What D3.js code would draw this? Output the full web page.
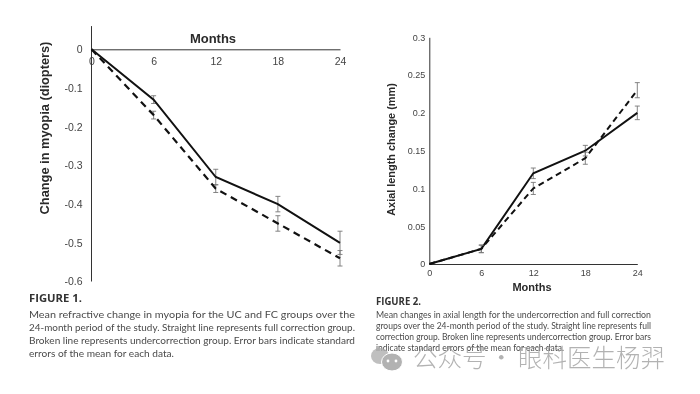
<!DOCTYPE html>
<html>
<head>
<meta charset="utf-8">
<script src="https://cdn.jsdelivr.net/npm/d3@7"></script>
<style>
  html, body { margin: 0; padding: 0; background: #fff; }
  svg { display: block; filter: blur(0.4px); }
  .tick text { font-family: "Liberation Sans", sans-serif; fill: #444; }
  .title { font-family: "Liberation Sans", sans-serif; font-weight: bold; fill: #2a2a2a; }
  .cap { font-family: Lato, "Open Sans", sans-serif; fill: #4a4a4a; }
  .cap-head { font-family: "Open Sans", sans-serif; font-weight: bold; fill: #333; }
</style>
</head>
<body>
<div id="chart"></div>
<script>
const months = [0, 6, 12, 18, 24];

const myopiaFull = [0, -0.13, -0.33, -0.40, -0.50];
const myopiaUnder = [0, -0.17, -0.36, -0.45, -0.54];
const myopiaFullErr = [0, 0.01, 0.02, 0.02, 0.03];
const myopiaUnderErr = [0, 0.01, 0.01, 0.02, 0.02];
const myopiaTicks = [0, -0.1, -0.2, -0.3, -0.4, -0.5, -0.6];

const axialFull = [0, 0.02, 0.12, 0.15, 0.20];
const axialUnder = [0, 0.02, 0.10, 0.14, 0.23];
const axialFullErr = [0, 0.005, 0.007, 0.007, 0.009];
const axialUnderErr = [0, 0.005, 0.008, 0.008, 0.01];
const axialTicks = [0, 0.05, 0.1, 0.15, 0.2, 0.25, 0.3];

const caption1 = [
    'Mean refractive change in myopia for the UC and FC groups over the',
    '24-month period of the study. Straight line represents full correction group.',
    'Broken line represents undercorrection group. Error bars indicate standard',
    'errors of the mean for each data.'
];
const caption2 = [
    'Mean changes in axial length for the undercorrection and full correction',
    'groups over the 24-month period of the study. Straight line represents full',
    'correction group. Broken line represents undercorrection group. Error bars',
    'indicate standard errors of the mean for each data.'
];

const svg = d3.select('#chart').append('svg')
    .attr('width', 700)
    .attr('height', 394);

const drawSeries = (g, x, y, values, errs, dash, width) => {
    const line = d3.line()
        .x((d, i) => x(months[i]))
        .y(d => y(d));

    // error bars go under the lines
    months.forEach((m, i) => {
        if (errs[i] === 0) return;
        const top = y(values[i] + errs[i]);
        const bot = y(values[i] - errs[i]);
        const cx = x(m);
        g.append('path')
            .attr('d', `M${cx - 2.5},${top}H${cx + 2.5}M${cx},${top}V${bot}M${cx - 2.5},${bot}H${cx + 2.5}`)
            .attr('fill', 'none')
            .attr('stroke', '#777')
            .attr('stroke-width', 0.9);
    });

    g.append('path')
        .datum(values)
        .attr('d', line)
        .attr('fill', 'none')
        .attr('stroke', '#111')
        .attr('stroke-width', width)
        .attr('stroke-dasharray', dash);
};

// figure 1
const x1 = d3.scaleLinear().domain([0, 24]).range([91.5, 340]);
const y1 = d3.scaleLinear().domain([0, -0.6]).range([49.3, 281.5]);
const g1 = svg.append('g');

const axisTop1 = g1.append('g')
    .attr('transform', `translate(0,${y1(0)})`)
    .call(d3.axisBottom(x1).tickValues(months).tickSize(0).tickPadding(8).tickFormat(d3.format('d')));
axisTop1.selectAll('text').style('font-size', '10.5px');
axisTop1.select('.domain').attr('stroke', '#333').attr('stroke-width', 1);

const axisLeft1 = g1.append('g')
    .attr('transform', `translate(${x1(0)},0)`)
    .call(d3.axisLeft(y1).tickValues(myopiaTicks).tickSize(0).tickPadding(9).tickFormat(d => d === 0 ? '0' : d3.format('.1f')(d).replace('\u2212', '-')));
axisLeft1.selectAll('text').style('font-size', '10.5px');
axisLeft1.select('.domain').remove();
g1.append('line')
    .attr('x1', x1(0)).attr('x2', x1(0))
    .attr('y1', y1(0.06)).attr('y2', y1(-0.6))
    .attr('stroke', '#333');

drawSeries(g1, x1, y1, myopiaFull, myopiaFullErr, null, 2);
drawSeries(g1, x1, y1, myopiaUnder, myopiaUnderErr, '7,5', 2.2);

g1.append('text').attr('class', 'title')
    .attr('x', 213).attr('y', 43)
    .attr('text-anchor', 'middle')
    .style('font-size', '13px')
    .text('Months');
g1.append('text').attr('class', 'title')
    .attr('transform', 'translate(49,128) rotate(-90)')
    .attr('text-anchor', 'middle')
    .style('font-size', '12.8px')
    .text('Change in myopia (diopters)');

// figure 2
const x2 = d3.scaleLinear().domain([0, 24]).range([429.3, 637.3]);
const y2 = d3.scaleLinear().domain([0, 0.3]).range([264, 37.3]);
const g2 = svg.append('g');

const axisBottom2 = g2.append('g')
    .attr('transform', `translate(0,${y2(0)})`)
    .call(d3.axisBottom(x2).tickValues(months).tickSize(0).tickPadding(6).tickFormat(d3.format('d')));
axisBottom2.selectAll('text').style('font-size', '9px');
axisBottom2.select('.domain').attr('stroke', '#333');

const axisLeft2 = g2.append('g')
    .attr('transform', `translate(${x2(0)},0)`)
    .call(d3.axisLeft(y2).tickValues(axialTicks).tickSize(0).tickPadding(4).tickFormat(d => String(d)));
axisLeft2.selectAll('text').style('font-size', '9px');
axisLeft2.select('.domain').attr('stroke', '#333');

drawSeries(g2, x2, y2, axialFull, axialFullErr, null, 1.9);
drawSeries(g2, x2, y2, axialUnder, axialUnderErr, '6,4', 2);

g2.append('text').attr('class', 'title')
    .attr('x', 532).attr('y', 291)
    .attr('text-anchor', 'middle')
    .style('font-size', '11px')
    .text('Months');
g2.append('text').attr('class', 'title')
    .attr('transform', 'translate(395,149.5) rotate(-90)')
    .attr('text-anchor', 'middle')
    .style('font-size', '10.9px')
    .text('Axial length change (mm)');

// captions, fitted to the printed line widths
const drawCaption = (head, lines, x, headY, ys, widths, size, headSize, headW) => {
    svg.append('text').attr('class', 'cap-head')
        .attr('x', x).attr('y', headY)
        .attr('textLength', headW)
        .attr('lengthAdjust', 'spacingAndGlyphs')
        .style('font-size', headSize + 'px')
        .text(head);
    lines.forEach((t, i) => {
        svg.append('text').attr('class', 'cap')
            .attr('x', x).attr('y', ys[i])
            .attr('textLength', widths[i])
            .attr('lengthAdjust', 'spacingAndGlyphs')
            .style('font-size', size + 'px')
            .text(t);
    });
};
drawCaption('FIGURE 1.', caption1, 29, 302, [317.5, 330.5, 343.5, 357], [326, 326, 326, 145], 10.2, 10.5, 53);
drawCaption('FIGURE 2.', caption2, 376, 305, [318, 329, 340, 351], [275, 275, 275, 188], 8.9, 9.8, 45);

// watermark
const wm = svg.append('g').attr('opacity', 0.75);
wm.append('ellipse').attr('cx', 380).attr('cy', 356).attr('rx', 9).attr('ry', 8).attr('fill', '#aaa');
wm.append('ellipse').attr('cx', 392).attr('cy', 362).attr('rx', 10.5).attr('ry', 9).attr('fill', '#999').attr('stroke', '#fff').attr('stroke-width', 1);
[388, 396].forEach(cx => {
    wm.append('circle').attr('cx', cx).attr('cy', 361).attr('r', 1.4).attr('fill', '#fff');
});
const wmText = wm.append('text')
    .attr('y', 367)
    .style('font-family', '"Noto Sans CJK SC", sans-serif')
    .style('font-size', '24.5px')
    .style('font-weight', 300)
    .attr('fill', '#999');
wmText.append('tspan').attr('x', 413).text('公众号');
wmText.append('tspan').attr('x', 489).text('·');
wmText.append('tspan').attr('x', 518).text('眼科医生杨羿');
</script>
</body>
</html>
